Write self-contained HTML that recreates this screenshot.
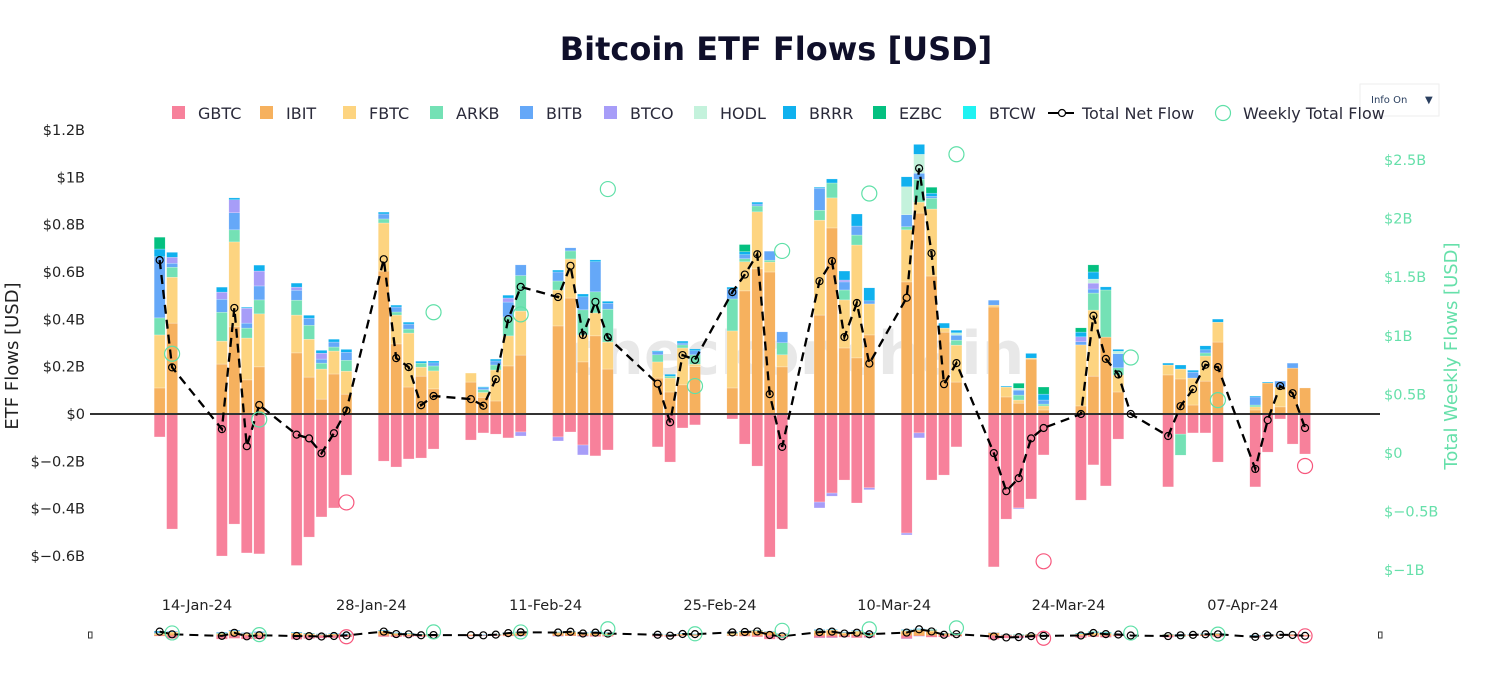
<!DOCTYPE html>
<html><head><meta charset="utf-8"><style>
html,body{margin:0;padding:0;background:#fff;}
body{width:1512px;height:692px;overflow:hidden;font-family:"DejaVu Sans","Liberation Sans",sans-serif;}
svg text{font-family:"DejaVu Sans","Liberation Sans",sans-serif;}
</style></head><body>
<svg id="chart" width="1512" height="692" viewBox="0 0 1512 692" xmlns="http://www.w3.org/2000/svg">
<text x="776" y="60" text-anchor="middle" font-size="32" font-weight="bold" fill="#0f0f2a">Bitcoin ETF Flows [USD]</text>
<text x="795" y="374" text-anchor="middle" font-size="60" font-weight="bold" fill="#000" fill-opacity="0.09">checkonchain</text>
<g>
<rect x="1360" y="84" width="79" height="32" fill="#fff" stroke="#eee"/>
<text x="1371" y="103" font-size="10" fill="#2a3f5f">Info On</text>
<text x="1425" y="103" font-size="10" fill="#2a3f5f">▼</text>
</g>
<text transform="translate(18,356) rotate(-90)" text-anchor="middle" font-size="18" fill="#222">ETF Flows [USD]</text>
<text transform="translate(1457,356) rotate(-90)" text-anchor="middle" font-size="18" fill="#66e0aa">Total Weekly Flows [USD]</text>
<g id="legend"></g>
<g id="yticks"></g>
<g id="y2ticks"></g>
<g id="xticks"></g>
<g id="bars"></g>
<line x1="90" x2="1380" y1="414" y2="414" stroke="#333" stroke-width="2"/>
<g id="netline"></g>
<g id="weekly"></g>
<g id="slider"></g>
</svg>
<script>
const dates = ["01-11","01-12","01-16","01-17","01-18","01-19","01-22","01-23","01-24","01-25","01-26","01-29","01-30","01-31",
"02-01","02-02","02-05","02-06","02-07","02-08","02-09","02-12","02-13","02-14","02-15","02-16","02-20","02-21","02-22","02-23","02-26","02-27","02-28","02-29",
"03-01","03-04","03-05","03-06","03-07","03-08","03-11","03-12","03-13","03-14","03-15","03-18","03-19","03-20","03-21","03-22","03-25","03-26","03-27","03-28","03-29",
"04-01","04-02","04-03","04-04","04-05","04-08","04-09","04-10","04-11","04-12"];
const GBTC = [-97,-486,-600,-465,-587,-591,-640,-520,-435,-397,-258,-199,-224,-190,
-186,-148,-110,-80,-85,-101,-76,-97,-76,-131,-177,-152,-139,-203,-59,-46,-21,-127,-220,-604,
-486,-372,-334,-279,-376,-312,-503,-80,-279,-258,-139,-646,-444,-397,-359,-173,-364,-215,-304,-106,0,
-308,-85,-80,-80,-203,-308,-161,-21,-127,-169];
const IBIT = [110,384,211,368,144,199,258,156,63,169,84,604,296,114,
160,106,135,70,55,203,249,372,490,220,330,190,152,93,123,200,110,520,613,600,
199,418,786,279,237,334,558,849,583,346,135,452,72,46,232,17,34,160,325,93,0,
165,148,38,139,304,17,131,30,194,110];
const FBTC = [224,194,97,359,177,224,160,160,127,97,97,203,122,228,
38,76,38,21,131,127,186,152,165,114,97,114,68,59,156,10,241,123,241,42,
51,401,127,203,477,131,220,46,283,17,156,8,42,13,4,17,258,279,0,72,0,
42,42,114,106,84,13,0,84,0,0];
const ARKB = [72,42,122,51,42,59,63,59,25,17,46,17,13,17,
17,21,0,12,21,80,150,38,34,106,89,139,30,8,13,40,135,13,25,8,
51,42,63,42,42,0,13,97,46,0,21,0,0,21,0,8,0,72,199,30,0,
0,-89,0,13,0,8,0,0,0,0];
const BITB = [258,17,55,72,21,59,42,30,17,21,34,21,21,21,
0,13,0,8,17,63,45,38,13,55,127,25,13,0,8,17,42,17,8,38,
46,93,0,34,38,13,51,25,8,0,21,21,0,21,0,17,13,17,0,60,0,
0,0,25,13,0,34,0,25,21,0];
const BTCO = [0,25,30,55,63,63,13,0,25,0,0,0,0,0,
0,0,0,0,0,17,-17,-17,0,-42,0,0,0,0,0,0,0,0,0,0,
0,-25,-13,8,0,-8,-8,-21,0,0,0,0,0,-4,0,0,21,25,0,0,0,
0,0,0,0,0,0,0,0,0,0];
const HODL = [0,0,0,0,0,0,0,0,0,0,0,0,0,0,
0,0,0,0,0,0,0,0,0,0,0,0,0,0,0,0,0,0,0,0,
0,0,0,0,0,0,118,80,0,0,10,0,0,8,0,0,0,17,0,10,0,
0,0,0,0,0,0,0,0,0,0];
const BRRR = [33,21,21,8,4,25,17,12,12,12,12,8,8,8,
8,8,0,4,8,12,0,8,0,12,8,8,4,8,8,8,8,13,8,0,
0,4,17,38,51,55,42,42,13,21,11,0,4,0,20,25,20,30,13,8,0,
8,17,8,17,13,4,4,0,0,0];
const EZBC = [50,0,0,0,0,0,0,0,0,0,0,0,0,0,
0,0,0,0,0,0,0,0,0,0,0,0,0,0,0,0,0,30,0,0,
0,0,0,0,0,0,0,0,25,0,0,0,0,21,0,30,18,30,0,0,0,
0,0,0,0,0,0,0,0,0,0];
const BTCW = new Array(65).fill(0);
const seriesNames = ["GBTC","IBIT","FBTC","ARKB","BITB","BTCO","HODL","BRRR","EZBC","BTCW"];
const seriesData = [GBTC,IBIT,FBTC,ARKB,BITB,BTCO,HODL,BRRR,EZBC,BTCW];
const seriesColors = ["#f7819b","#f6b15e","#fdd480","#74e1b5","#65a8f8","#a79df8","#c4f2dc","#10b1ee","#04c080","#20f2f2"];
const yTicks = [1.2,1,0.8,0.6,0.4,0.2,0,-0.2,-0.4,-0.6];
const yTickLabels = ["$1.2B","$1B","$0.8B","$0.6B","$0.4B","$0.2B","$0","$\u22120.2B","$\u22120.4B","$\u22120.6B"];
const y2Ticks = [2.5,2,1.5,1,0.5,0,-0.5,-1];
const y2TickLabels = ["$2.5B","$2B","$1.5B","$1B","$0.5B","$0","$\u22120.5B","$\u22121B"];
const xTickDates = ["01-14","01-28","02-11","02-25","03-10","03-24","04-07"];
const xTickLabels = ["14-Jan-24","28-Jan-24","11-Feb-24","25-Feb-24","10-Mar-24","24-Mar-24","07-Apr-24"];

const NS="http://www.w3.org/2000/svg";
function mk(tag,attrs,parent){const e=document.createElementNS(NS,tag);for(const k in attrs)e.setAttribute(k,attrs[k]);parent.appendChild(e);return e;}
function dayNum(d){const [m,dd]=d.split("-").map(Number);return Date.UTC(2024,m-1,dd)/86400000;}
const base=dayNum("01-14");
function xs(d){return 197+(dayNum(d)-base)*12.45;}
function ys(m){return 414-m*0.2367;}
function y2s(m){return 453-m*0.1172;}
function ysMini(m){return 635.5-m*0.006;}
function y2sMini(m){return 635.5-m*0.003;}

const yt=document.getElementById("yticks");
yTicks.forEach((v,i)=>{const t=mk("text",{x:85,y:ys(v*1000)+5,"text-anchor":"end","font-size":14.5,fill:"#222"},yt);t.textContent=yTickLabels[i];
});
const y2t=document.getElementById("y2ticks");
y2Ticks.forEach((v,i)=>{const t=mk("text",{x:1384,y:y2s(v*1000)+5,"font-size":14.5,fill:"#66e0aa"},y2t);t.textContent=y2TickLabels[i];
});
const xt=document.getElementById("xticks");
xTickDates.forEach((d,i)=>{const t=mk("text",{x:xs(d),y:610,"text-anchor":"middle","font-size":14.5,fill:"#222"},xt);t.textContent=xTickLabels[i];
});

const bg=document.getElementById("bars");
const sl=document.getElementById("slider");
const net=[];
dates.forEach((d,i)=>{
  let pos=0,neg=0,tot=0;const x=xs(d);
  seriesData.forEach((arr,s)=>{
    const v=arr[i];if(!v)return;tot+=v;
    let y0,y1;
    if(v>0){y0=pos;y1=pos+v;pos=y1;}else{y0=neg;y1=neg+v;neg=y1;}
    const top=ys(Math.max(y0,y1)),bot=ys(Math.min(y0,y1));
    const r=mk("rect",{x:x-5.5,y:top,width:11,height:Math.max(bot-top,0.5),fill:seriesColors[s],stroke:"#fff","stroke-width":0.4,"stroke-opacity":0.6},bg);
    
    
    const mt=ysMini(Math.max(y0,y1)),mb=ysMini(Math.min(y0,y1));
    const mr=mk("rect",{x:x-5.5,y:mt,width:11,height:Math.max(mb-mt,0.3),fill:seriesColors[s]},sl);
    
    
  });
  net.push(tot);
});

const ng=document.getElementById("netline");
const pts=dates.map((d,i)=>xs(d)+","+ys(net[i])).join(" ");
const pl=mk("polyline",{points:pts,fill:"none",stroke:"#000","stroke-width":2.3,"stroke-dasharray":"9,6"},ng);


const mpts=dates.map((d,i)=>xs(d)+","+ysMini(net[i])).join(" ");
const mpl=mk("polyline",{points:mpts,fill:"none",stroke:"#000","stroke-width":2,"stroke-dasharray":"9,6"},sl);


dates.forEach((d,i)=>{
  const c=mk("circle",{cx:xs(d),cy:ys(net[i]),r:3.5,fill:"none",stroke:"#000","stroke-width":1.2},ng);
  
  
  const mc=mk("circle",{cx:xs(d),cy:ysMini(net[i]),r:3.5,fill:"none",stroke:"#000","stroke-width":1.2},sl);
  
  
});

const wg=document.getElementById("weekly");
const weeks={};
dates.forEach((d,i)=>{const wk=Math.floor((dayNum(d)-dayNum("01-08"))/7);if(!weeks[wk])weeks[wk]={sum:0,last:d};weeks[wk].sum+=net[i];weeks[wk].last=d;});
Object.keys(weeks).forEach(k=>{
  const w=weeks[k];const wd=Math.floor((dayNum(w.last)-dayNum("01-08"))/7);
  const fri=dayNum("01-08")+wd*7+4;const x=197+(fri-base)*12.45;
  const col=w.sum>=0?"#5fe0a8":"#f7567c";
  const c=mk("circle",{cx:x,cy:y2s(w.sum),r:7.5,fill:"none",stroke:col,"stroke-width":1.2},wg);
  
  
  const mc=mk("circle",{cx:x,cy:y2sMini(w.sum),r:7,fill:"none",stroke:col,"stroke-width":1.2},sl);
  
  
});
[90,1380].forEach(x=>{const h=mk("rect",{x:x-1.5,y:632,width:3.5,height:6,fill:"#fff",stroke:"#333","stroke-width":1},sl);
});

const lg=document.getElementById("legend");
const legX=[172,260,343,430,520,604,694,783,873,963];
seriesNames.forEach((n,i)=>{
  const g=mk("g",{},lg);
  
  
  mk("rect",{x:legX[i],y:106,width:13,height:13,fill:seriesColors[i]},g);
  const t=mk("text",{x:legX[i]+26,y:119,"font-size":16,fill:"#2a2a3a"},g);t.textContent=n;
});
const g1=mk("g",{},lg);


mk("line",{x1:1048,x2:1074,y1:113,y2:113,stroke:"#000","stroke-width":2},g1);
mk("circle",{cx:1062,cy:113,r:3.5,fill:"#fff",stroke:"#000","stroke-width":1.2},g1);
const t1=mk("text",{x:1082,y:119,"font-size":16,fill:"#2a2a3a"},g1);t1.textContent="Total Net Flow";
const g2=mk("g",{},lg);


mk("circle",{cx:1223,cy:113,r:7.5,fill:"none",stroke:"#5fe0a8","stroke-width":1.2},g2);
const t2=mk("text",{x:1243,y:119,"font-size":16,fill:"#2a2a3a"},g2);t2.textContent="Weekly Total Flow";
</script>
</body></html>
